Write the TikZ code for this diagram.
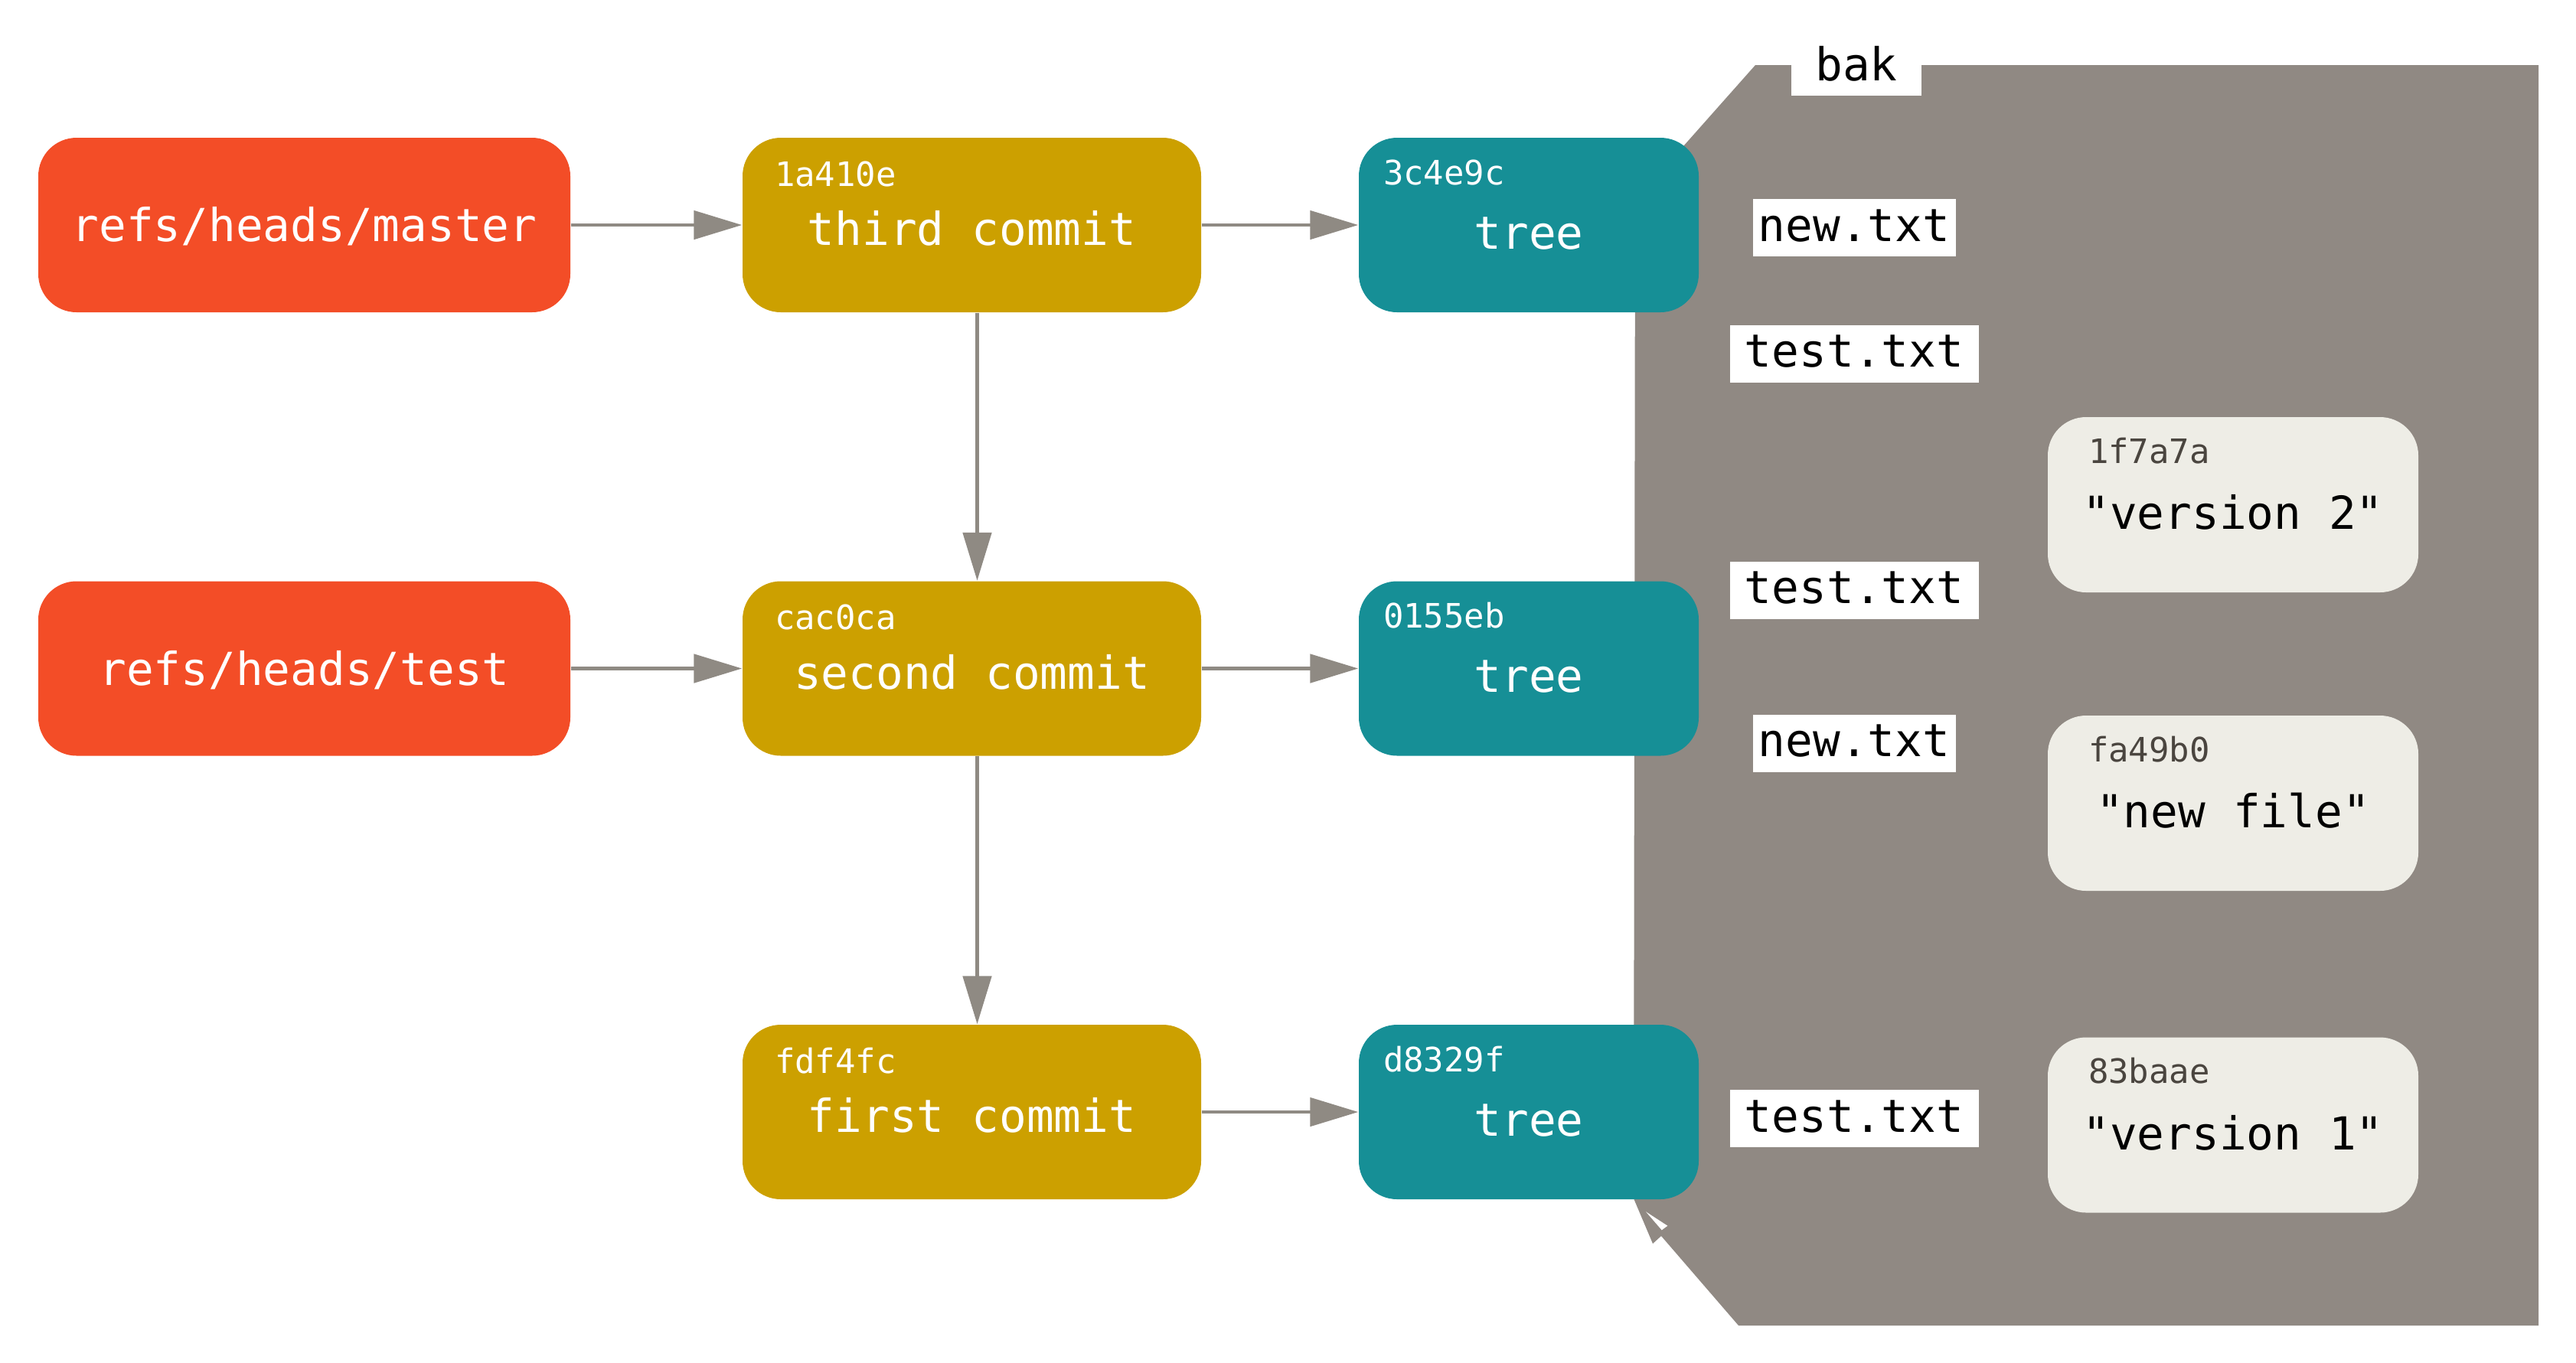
\documentclass[tikz,border=0pt]{standalone}
\usepackage{fontspec}
\setmonofont{DejaVu Sans Mono}
\usepackage{tikz}
\usetikzlibrary{shapes,arrows,arrows.meta}

\definecolor{refred}{HTML}{F34D27}
\definecolor{commitgold}{HTML}{CCA000}
\definecolor{treeteal}{HTML}{168F96}
\definecolor{blobcream}{HTML}{EEEDE6}
\definecolor{linkgray}{HTML}{8F8A83}
\definecolor{bakgray}{HTML}{908983}
\definecolor{hashdark}{HTML}{4A453F}

\newcommand{\bigtt}{\ttfamily\fontsize{16.9}{20}\selectfont}
\newcommand{\smalltt}{\ttfamily\fontsize{12.5}{15}\selectfont}

\begin{document}
\begin{tikzpicture}
	\def \rowoneht{-2.94cm}
	\def \rowtwoht{-8.735cm}
	\def \rowthreeht{-14.53cm}
	\def \labelx{24.22cm}
	\tikzstyle{box}=[rounded corners=0.5cm,minimum height=2.28cm,inner sep=0pt,text depth=0pt,font=\bigtt]
	\tikzstyle{ref-node}=[box,fill=refred,text=white,minimum width=6.95cm,text height=0.43cm]
	\tikzstyle{c-node}=[box,fill=commitgold,text=white,minimum width=5.99cm,text height=0.53cm]
	\tikzstyle{t-node}=[box,fill=treeteal,text=white,minimum width=4.44cm,text height=0.62cm]
	\tikzstyle{b-node}=[box,fill=blobcream,text=black,minimum width=4.84cm,minimum height=2.29cm,text height=0.64cm]
	\tikzstyle{hash}=[inner sep=0pt,anchor=base west,font=\smalltt,text=white]
	\tikzstyle{e-label}=[fill=white,inner sep=0pt,minimum width=2.65cm,minimum height=0.75cm,text height=0.35cm,text depth=0pt,font=\bigtt]
	\tikzstyle{link}=[color=linkgray,line width=1.4pt,-{Triangle[length=0.63cm,width=0.37cm]}]
	\useasboundingbox (0,0) rectangle (33.65,-17.80);

	% bak cluster
	\fill[bakgray] (22.93,-0.85) -- (33.16,-0.85) -- (33.16,-17.32) -- (22.71,-17.32)
		-- (21.70,-16.15) -- (21.59,-16.25) -- (21.34,-15.66) -- (21.36,-2.62) -- cycle;
	\fill[white] (21.50,-15.833) -- (21.783,-16.017) -- (21.707,-16.073) -- cycle;
	\node[fill=white,inner sep=0pt,minimum width=1.7cm,minimum height=0.65cm,text height=0.25cm,text depth=0pt,font=\bigtt] (bak) at (24.25,-0.925) {bak};

	% refs
	\node[ref-node] 	(master)	at (3.975,\rowoneht)	{refs/heads/master};
	\node[ref-node] 	(testref)	at (3.975,\rowtwoht)	{refs/heads/test};

	% commits
	\node[c-node] 	(c3)	at (12.695,\rowoneht)		{third commit};
	\node[c-node] 	(c2)	at (12.695,\rowtwoht)		{second commit};
	\node[c-node] 	(c1)	at (12.695,\rowthreeht)		{first commit};
	\node[hash] 	(c3h)	at ([xshift=0.42cm,yshift=-0.64cm]c3.north west)	{1a410e};
	\node[hash] 	(c2h)	at ([xshift=0.42cm,yshift=-0.64cm]c2.north west)	{cac0ca};
	\node[hash] 	(c1h)	at ([xshift=0.42cm,yshift=-0.64cm]c1.north west)	{fdf4fc};

	% trees
	\node[t-node] 	(t3)	at (19.97,\rowoneht)		{tree};
	\node[t-node] 	(t2)	at (19.97,\rowtwoht)		{tree};
	\node[t-node] 	(t1)	at (19.97,\rowthreeht)		{tree};
	\node[hash] 	(t3h)	at ([xshift=0.32cm,yshift=-0.62cm]t3.north west)	{3c4e9c};
	\node[hash] 	(t2h)	at ([xshift=0.32cm,yshift=-0.62cm]t2.north west)	{0155eb};
	\node[hash] 	(t1h)	at ([xshift=0.32cm,yshift=-0.62cm]t1.north west)	{d8329f};

	% blobs
	\node[b-node] 	(b2)	at (29.17,-6.595)		{"version 2"};
	\node[b-node] 	(bn)	at (29.17,-10.495)		{"new file"};
	\node[b-node] 	(b1)	at (29.17,-14.70)		{"version 1"};
	\node[hash,text=hashdark] 	(b2h)	at ([xshift=0.53cm,yshift=-0.61cm]b2.north west)	{1f7a7a};
	\node[hash,text=hashdark] 	(bnh)	at ([xshift=0.53cm,yshift=-0.61cm]bn.north west)	{fa49b0};
	\node[hash,text=hashdark] 	(b1h)	at ([xshift=0.53cm,yshift=-0.61cm]b1.north west)	{83baae};

	% file names
	\node[e-label] 	(n3)	at (\labelx,-2.975)		{new.txt};
	\node[e-label,minimum width=3.25cm] 	(s3)	at (\labelx,-4.62)		{test.txt};
	\node[e-label,minimum width=3.25cm] 	(s2)	at (\labelx,-7.71)		{test.txt};
	\node[e-label] 	(n2)	at (\labelx,-9.71)		{new.txt};
	\node[e-label,minimum width=3.25cm] 	(s1)	at (\labelx,-14.615)		{test.txt};

	\path[link]
		(master)	edge	(c3)
		(testref)	edge	(c2)
		%
		(c3)	edge	(t3)
		(c2)	edge	(t2)
		(c1)	edge	(t1)
		%
		([xshift=0.07cm]c3.south)	edge	([xshift=0.07cm]c2.north)
		([xshift=0.07cm]c2.south)	edge	([xshift=0.07cm]c1.north);

\end{tikzpicture}
\end{document}
